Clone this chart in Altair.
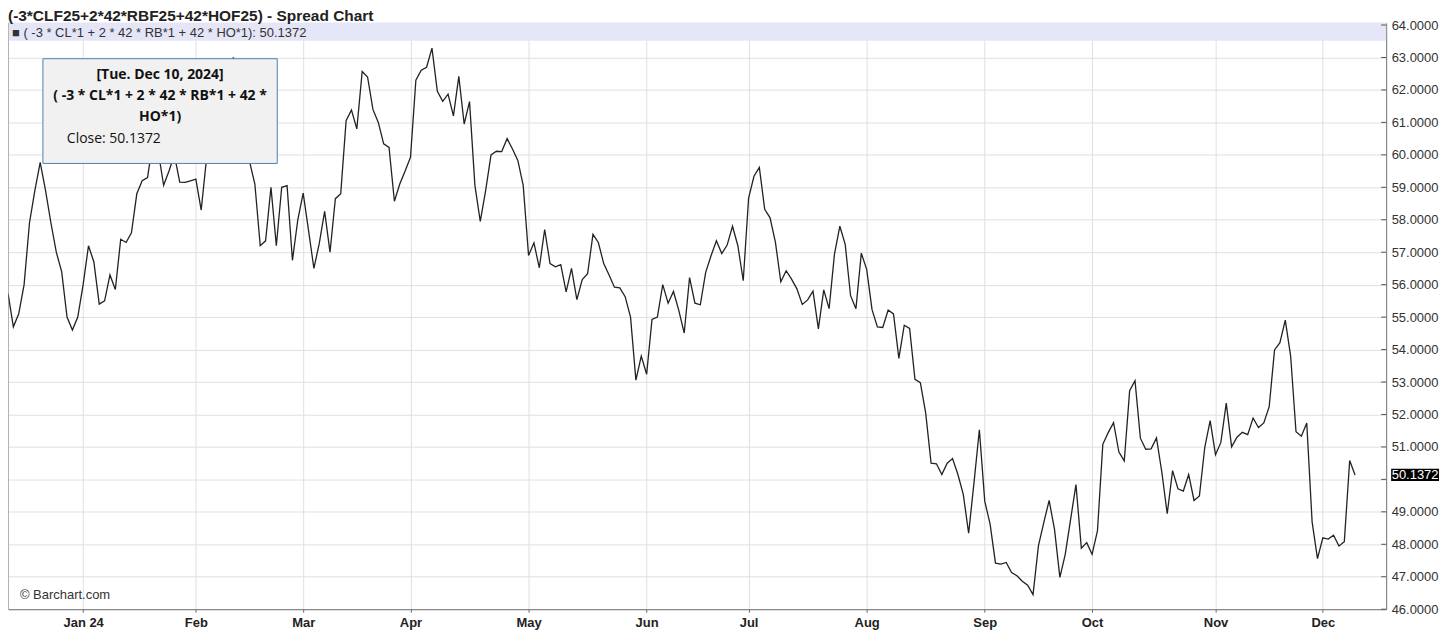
import altair as alt
import pandas as pd

# ---- data -------------------------------------------------------------
closes = [
    55.73, 54.70, 55.10, 56.00, 57.90, 58.90, 59.77, 58.90, 57.90, 57.00,
    56.40, 55.00, 54.60, 55.00, 56.00, 57.20, 56.70, 55.40, 55.50, 56.30,
    55.85, 57.40, 57.30, 57.60, 58.80, 59.20, 59.30, 60.40, 60.10, 59.06,
    59.50, 60.00, 59.16, 59.15, 59.20, 59.25, 58.30, 59.90, 60.60, 61.30,
    61.90, 62.50, 63.00, 62.10, 60.60, 59.80, 59.10, 57.20, 57.35, 59.00,
    57.20, 59.00, 59.05, 56.75, 58.00, 58.82, 57.67, 56.50, 57.27, 58.26,
    57.00, 58.65, 58.80, 61.05, 61.38, 60.80, 62.57, 62.40, 61.40, 61.00,
    60.34, 60.23, 58.57, 59.10, 59.50, 59.93, 62.30, 62.61, 62.70, 63.29,
    61.96, 61.65, 61.87, 61.20, 62.42, 60.95, 61.64, 59.06, 57.95, 58.90,
    60.00, 60.11, 60.10, 60.50, 60.18, 59.83, 59.06, 56.90, 57.29, 56.52,
    57.70, 56.65, 56.55, 56.62, 55.78, 56.50, 55.54, 56.16, 56.34, 57.55,
    57.30, 56.65, 56.30, 55.92, 55.90, 55.63, 55.00, 53.06, 53.80, 53.24,
    54.93, 55.00, 56.00, 55.43, 55.79, 55.20, 54.51, 56.22, 55.43, 55.38,
    56.38, 56.89, 57.35, 56.96, 57.22, 57.80, 57.20, 56.12, 58.67, 59.34,
    59.61, 58.32, 58.06, 57.30, 56.09, 56.43, 56.17, 55.87, 55.39, 55.53,
    55.80, 54.64, 55.84, 55.26, 56.94, 57.80, 57.24, 55.66, 55.26, 56.97,
    56.47, 55.23, 54.70, 54.68, 55.22, 55.10, 53.73, 54.75, 54.65, 53.08,
    52.98, 52.04, 50.50, 50.48, 50.15, 50.50, 50.64, 50.15, 49.54, 48.34,
    49.90, 51.53, 49.33, 48.62, 47.42, 47.39, 47.44, 47.13, 47.03, 46.86,
    46.74, 46.45, 47.95, 48.67, 49.35, 48.46, 46.98, 47.69, 48.77, 49.84,
    47.88, 48.05, 47.69, 48.41, 51.08, 51.44, 51.75, 50.84, 50.57, 52.73,
    53.04, 51.27, 50.93, 50.94, 51.28, 50.22, 48.94, 50.27, 49.71, 49.64,
    50.15, 49.35, 49.49, 50.99, 51.81, 50.76, 51.14, 52.35, 51.00, 51.30,
    51.45, 51.38, 51.89, 51.60, 51.74, 52.24, 53.99, 54.21, 54.91, 53.80,
    51.47, 51.33, 51.74, 48.69, 47.56, 48.20, 48.16, 48.28, 47.95, 48.08,
    50.58, 50.1372,
]
holidays = ["2023-12-25", "2024-01-01", "2024-01-15", "2024-02-19", "2024-03-29",
            "2024-05-27", "2024-06-19", "2024-07-04", "2024-09-02", "2024-11-28"]
month_labels = ["Jan 24", "Feb", "Mar", "Apr", "May", "Jun",
                "Jul", "Aug", "Sep", "Oct", "Nov", "Dec"]
y_ticks = list(range(46, 65))

title_text = "(-3*CLF25+2*42*RBF25+42*HOF25) - Spread Chart"
legend_text = "\u25a0 ( -3 * CL*1 + 2 * 42 * RB*1 + 42 * HO*1): 50.1372"
tip_lines = ["[Tue. Dec 10, 2024]", "( -3 * CL*1 + 2 * 42 * RB*1 + 42 *", "HO*1)"]
tip_close = "Close: 50.1372"
last_label = "50.1372"

# ---- build tables -----------------------------------------------------
dates = pd.bdate_range("2023-12-11", "2024-12-10", freq="C", holidays=holidays)
n = min(len(dates), len(closes))
df = pd.DataFrame({"i": range(n), "date": dates[:n], "v": closes[:n]})

month_idx = []
prev = None
for k, d in enumerate(df["date"]):
    key = (d.year, d.month)
    if prev is not None and key != prev:
        month_idx.append(k)
    prev = key
month_idx = month_idx[:len(month_labels)]

label_expr = "''"
for k, lab in reversed(list(zip(month_idx, month_labels))):
    label_expr = f"datum.value == {k} ? '{lab}' : ({label_expr})"

W, H = 1382, 588
X_MAX = 256.8
Y_DOM = [46, 64.0676]
FONT = "Liberation Sans"

one = pd.DataFrame({"a": [0]})
ticks_df = pd.DataFrame({"t": y_ticks})
last = df.iloc[[-1]].copy()
last["lo"] = last["v"] - 0.19
last["hi"] = last["v"] + 0.19

y_scale = alt.Scale(domain=Y_DOM, nice=False, zero=False)
y_axis = alt.Axis(orient="right", values=y_ticks, title=None,
                  labelExpr="datum.value == 50 ? '' : format(datum.value, '.4f')",
                  grid=True, gridColor="#e0e0e0", labelFont=FONT,
                  labelFontSize=13, labelColor="#333", tickSize=0,
                  domainColor="#777", labelPadding=5, labelOverlap=False)

x_enc = alt.X("i:Q", scale=alt.Scale(domain=[0, X_MAX], nice=False, zero=False),
              axis=alt.Axis(values=month_idx, labelExpr=label_expr, title=None,
                            grid=True, gridColor="#e0e0e0", labelFont=FONT,
                            labelFontSize=13, labelFontWeight="bold", labelColor="#222",
                            tickSize=3, tickColor="#666", domainColor="#777",
                            labelPadding=4))

band = alt.Chart(one).mark_rect(color="#e5e5f8").encode(
    x=alt.value(0), x2=alt.value(W), y=alt.value(0), y2=alt.value(18))
legend = alt.Chart(one).mark_text(align="left", baseline="middle", font=FONT,
                                  fontSize=13, color="#333").encode(
    x=alt.value(4), y=alt.value(10), text=alt.value(legend_text))
left_rule = alt.Chart(one).mark_rule(color="#888").encode(
    x=alt.value(0), y=alt.value(0), y2=alt.value(H))
y_tick_marks = alt.Chart(ticks_df).mark_rule(color="#555").encode(
    x=alt.value(W - 5), x2=alt.value(W), y=alt.Y("t:Q", scale=y_scale, axis=y_axis))
line = alt.Chart(df).mark_line(color="#222", strokeWidth=1.3).encode(
    x=x_enc, y=alt.Y("v:Q", scale=y_scale, axis=y_axis))
copyright_ = alt.Chart(one).mark_text(align="left", baseline="middle", font=FONT,
                                      fontSize=13, color="#333").encode(
    x=alt.value(12), y=alt.value(574), text=alt.value("\u00a9 Barchart.com"))
tip_box = alt.Chart(one).mark_rect(fill="#f1f1f1", stroke="#4f7fb8", strokeWidth=1).encode(
    x=alt.value(35), x2=alt.value(270), y=alt.value(36), y2=alt.value(141))
tip_texts = [
    alt.Chart(one).mark_text(align="center", baseline="middle", font="Open Sans",
                             fontSize=14, fontWeight="bold", color="#111").encode(
        x=alt.value(152.5), y=alt.value(yy), text=alt.value(t))
    for t, yy in zip(tip_lines, [52, 73, 94])
]
tip_close_t = alt.Chart(one).mark_text(align="left", baseline="middle", font="Open Sans",
                                       fontSize=14, color="#111").encode(
    x=alt.value(59), y=alt.value(116), text=alt.value(tip_close))
last_box = alt.Chart(last).mark_rect(color="#000").encode(
    x=alt.value(W + 5), x2=alt.value(W + 53),
    y=alt.Y("lo:Q", scale=y_scale, axis=y_axis), y2="hi:Q")
last_text = alt.Chart(last).mark_text(align="center", baseline="middle", font=FONT,
                                      fontSize=13, color="#fff").encode(
    x=alt.value(W + 29), y=alt.Y("v:Q", scale=y_scale, axis=y_axis),
    text=alt.value(last_label))
title = alt.Chart(one).mark_text(align="left", baseline="middle", font=FONT,
                                 fontSize=15.5, fontWeight="bold", color="#222").encode(
    x=alt.value(0), y=alt.value(-7), text=alt.value(title_text))

chart = alt.layer(
    line, band, legend, left_rule, y_tick_marks, copyright_, tip_box, *tip_texts,
    tip_close_t, last_box, last_text, title,
).properties(
    width=W, height=H,
    padding={"left": 0, "top": 14, "right": 62, "bottom": 27},
    autosize=alt.AutoSizeParams(type="none"),
).configure_view(strokeWidth=0).configure(background="white")

chart.save("out.html", embed_options={"renderer": "svg", "actions": False})
